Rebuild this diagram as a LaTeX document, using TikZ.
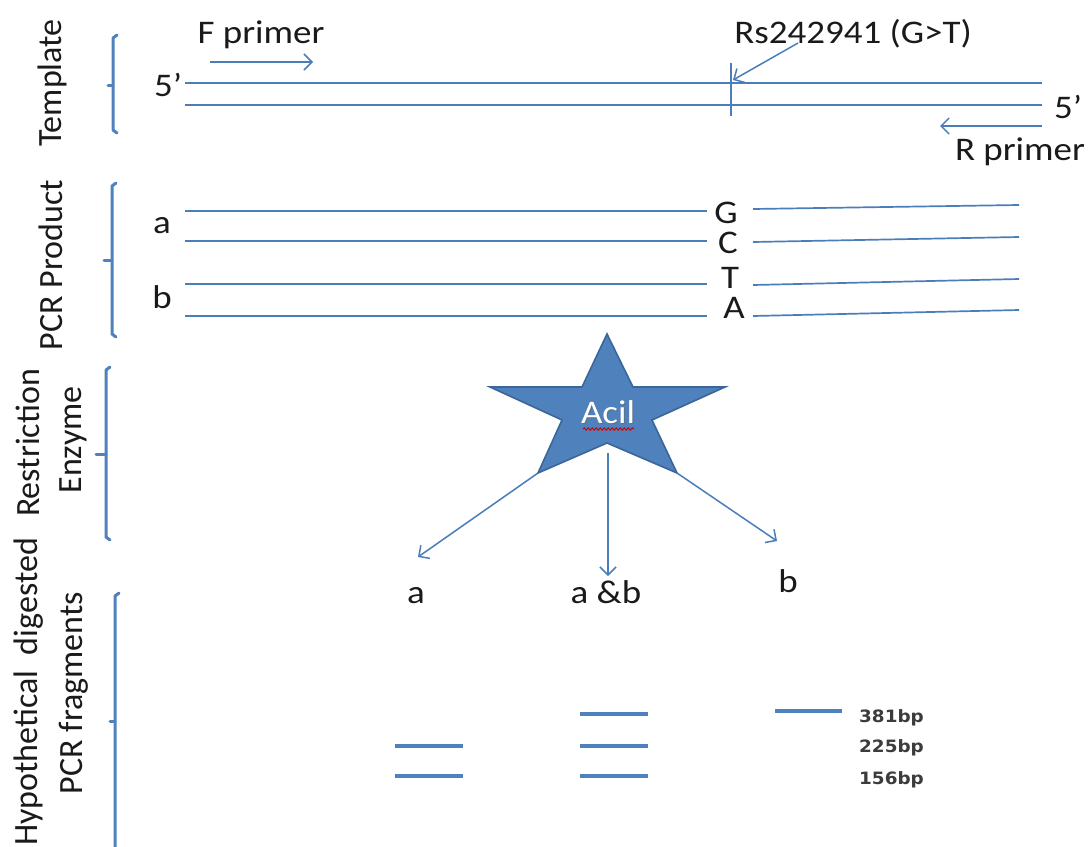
\documentclass[tikz,border=0pt]{standalone}
\usepackage{fontspec}
\setmainfont{Carlito}
\newfontfamily\hfont[FakeStretch=1.12]{Carlito}
\newfontfamily\vfont{Carlito}
\newfontfamily\bpfont[FakeStretch=1.08]{DejaVu Sans Bold}
\usetikzlibrary{arrows.meta,decorations.pathmorphing}
\definecolor{dna}{HTML}{4A7EBB}
\definecolor{brace}{HTML}{4F81BD}
\definecolor{starfill}{HTML}{4F81BD}
\definecolor{staredge}{HTML}{3A6699}
\definecolor{ink}{HTML}{1A1A1A}

\begin{document}
\begin{tikzpicture}[x=1pt,y=-1pt,
  strand/.style={draw=dna,line width=1.7pt},
  pointer/.style={draw=dna,line width=1.5pt,-{Straight Barb[length=8pt,width=16pt]}},
  bracebar/.style={draw=brace,line width=3pt,line cap=round,line join=round},
  band/.style={draw=brace,line width=4pt},
  htext/.style={font=\hfont\fontsize{33}{36}\selectfont,text=ink,inner sep=0pt,anchor=base},
  vtext/.style={font=\vfont\fontsize{34}{40}\selectfont,text=ink,inner sep=0pt,rotate=90},
  bptext/.style={font=\bpfont\fontsize{17}{20}\selectfont,text=ink!85,inner sep=0pt,anchor=base west},
]
\useasboundingbox[fill=white] (0,0) rectangle (1091,846);

% ---------- side labels and braces ----------
\node[vtext] (lTemplate) at (52,83) {Template};
\node[vtext] (lPCR) at (51,265) {PCR Product};
\node[vtext] (lRestr) at (28,443) {Restriction};
\node[vtext] (lEnz) at (73,440) {Enzyme};
\node[vtext] (lHypo) at (29,692) {Hypothetical\hspace{0.45em}digested};
\node[vtext] (lFrag) at (74,693) {PCR fragments};

\draw[bracebar] (117,35) -- (113,38) -- (113,130) -- (117,133);
\draw[bracebar] (113,85) -- (108,85);
\draw[bracebar] (116,183) -- (112,186) -- (112,334) -- (116,337);
\draw[bracebar] (112,260) -- (104,260);
\draw[bracebar] (110,367) -- (106,370) -- (106,537) -- (110,540);
\draw[bracebar] (106,454) -- (96,454);
\draw[bracebar] (119,593) -- (115,596) -- (115,860);
\draw[bracebar] (115,721) -- (110,721);

% ---------- template ----------
\coordinate (t1a) at (185,83);  \coordinate (t1b) at (1042,83);
\coordinate (t2a) at (185,105); \coordinate (t2b) at (1042,105);
\draw[strand] (t1a) -- (t1b);
\draw[strand] (t2a) -- (t2b);
\coordinate (snpTop) at (731,63); \coordinate (snpBot) at (731,116);
\draw[strand] (snpTop) -- (snpBot);

\node[htext] (five1) at (168,96) {5’};
\node[htext] (five2) at (1068,118) {5’};
\node[htext] (fprimer) at (261,43) {F primer};
\node[htext] (rprimer) at (1020,160) {R primer};
\node[htext] (snp) at (853,43) {Rs242941 (G>T)};

\coordinate (fA) at (210,62);  \coordinate (fB) at (313,62);
\draw[pointer] (fA) -- (fB);
\coordinate (rA) at (1042,126); \coordinate (rB) at (940,126);
\draw[pointer] (rA) -- (rB);
\coordinate (sA) at (798,43); \coordinate (sB) at (733,80);
\draw[pointer] (sA) -- (sB);

% ---------- PCR product ----------
\node[htext] (pa) at (162,233) {a};
\node[htext] (pb) at (162,308) {b};
\node[htext] (bG) at (726,223) {G};
\node[htext] (bC) at (728,253) {C};
\node[htext] (bT) at (730,288) {T};
\node[htext] (bA) at (734,318) {A};

\draw[strand] (185,211) -- (707,211);
\draw[strand] (185,241) -- (707,241);
\draw[strand] (185,284) -- (707,284);
\draw[strand] (185,316) -- (707,316);
\draw[strand] (753,209) -- (1019,205);
\draw[strand] (753,242) -- (1019,237);
\draw[strand] (753,285) -- (1019,279);
\draw[strand] (753,316) -- (1019,310);

% ---------- restriction enzyme star ----------
\coordinate (sTop) at (607,334);
\coordinate (sIR) at (633,387);
\coordinate (sR) at (725,387);
\coordinate (sIRB) at (652,420);
\coordinate (sBR) at (677,473);
\coordinate (sIB) at (607,443);
\coordinate (sBL) at (538,473);
\coordinate (sILB) at (562,420);
\coordinate (sL) at (490,387);
\coordinate (sIL) at (582,387);
\draw[fill=starfill,draw=staredge,line width=1.6pt,line join=miter]
  (sTop) -- (sIR) -- (sR) -- (sIRB) -- (sBR) -- (sIB) -- (sBL) -- (sILB) -- (sL) -- (sIL) -- cycle;
\node[htext,text=black!60,opacity=0.6] at (609,424) {Acil};
\node[htext,text=white] (enzyme) at (608,423) {Acil};
\draw[red!80!black,line width=0.9pt,decorate,decoration={snake,amplitude=1.2pt,segment length=4pt}]
  (583,429) -- (634,429);

% ---------- digestion arrows ----------
\node[htext] (ca) at (416,603) {a};
\node[htext] (cab) at (606,603) {a \&b};
\node[htext] (cb) at (788,592) {b};
\coordinate (mTop) at (608,453);
\coordinate (eL) at (418,557);
\coordinate (eM) at (608,576);
\coordinate (eR) at (777,541);
\draw[pointer] (sBL) -- (eL);
\draw[pointer] (mTop) -- (eM);
\draw[pointer] (sBR) -- (eR);

% ---------- fragment bands ----------
\draw[band] (395,746) -- (463,746);
\draw[band] (395,776) -- (463,776);
\draw[band] (580,714) -- (648,714);
\draw[band] (580,746) -- (648,746);
\draw[band] (580,776) -- (648,776);
\draw[band] (775,711) -- (842,711);
\node[bptext] (bp381) at (859,722) {381bp};
\node[bptext] (bp225) at (859,752) {225bp};
\node[bptext] (bp156) at (859,784) {156bp};
\end{tikzpicture}
\end{document}
